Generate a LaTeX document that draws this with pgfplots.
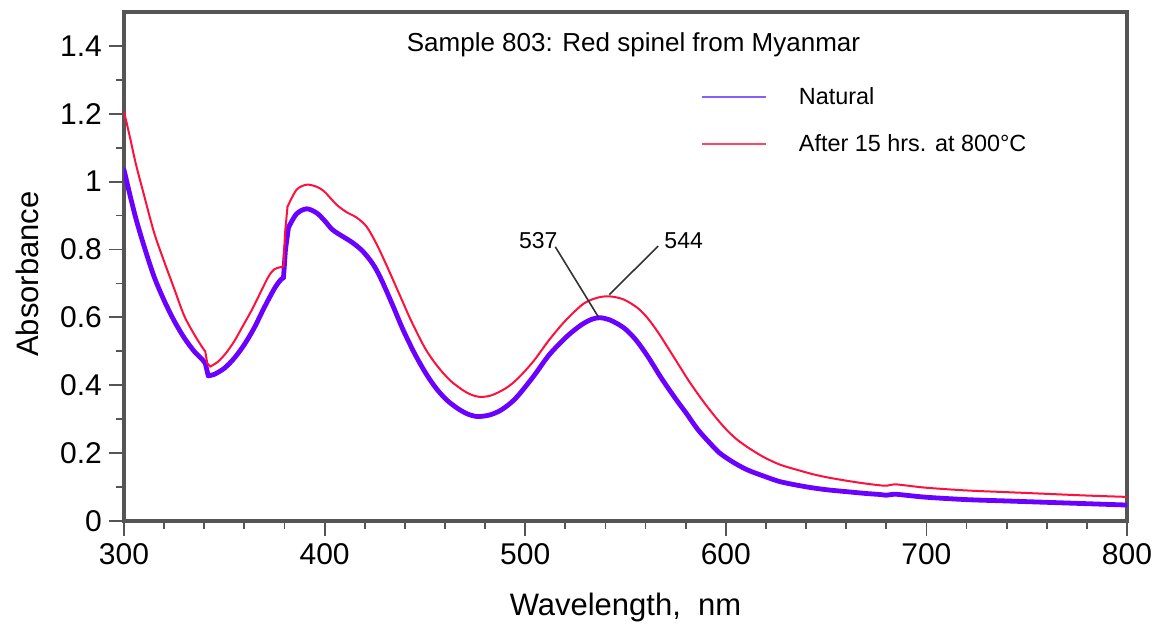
\documentclass[border=0pt]{standalone}
\usepackage{fontspec}
\setmainfont{Liberation Sans}
\usepackage{pgfplots}
\pgfplotsset{compat=1.18}
\definecolor{natcol}{RGB}{106,0,255}
\definecolor{natleg}{RGB}{140,90,255}
\definecolor{redcol}{RGB}{255,15,60}
\definecolor{redleg}{RGB}{255,70,105}
\definecolor{framecol}{RGB}{85,85,85}
\begin{document}
\begin{tikzpicture}
\begin{axis}[
  scale only axis,
  width=501.5pt, height=254.5pt,
  xmin=300, xmax=800, ymin=0, ymax=1.5,
  xtick={300,400,500,600,700,800},
  ytick={0,0.2,0.4,0.6,0.8,1,1.2,1.4},
  minor x tick num=4,
  minor y tick num=1,
  tick align=outside,
  tick pos=left,
  major tick length=7.5pt,
  minor tick length=4pt,
  every tick/.style={color=framecol, line width=0.9pt},
  axis line style={line width=1.6pt, color=framecol},
  /pgf/number format/assume math mode=true,
  ticklabel style={font=\fontsize{15}{18}\selectfont},
  every axis x label/.style={at={(axis description cs:0.5,-0.169)}, anchor=center},
  every axis y label/.style={at={(axis description cs:-0.0967,0.485)}, rotate=90, anchor=center},
  label style={font=\fontsize{15.5}{18}\selectfont},
  xlabel={Wavelength,\ \ nm},
  ylabel={Absorbance},
  legend style={draw=none, fill=none, at={(axis cs:587.3,1.18)}, anchor=west,
    inner sep=0pt, row sep=9.5pt, column sep=14pt,
    font=\fontsize{11.7}{14}\selectfont},
  legend cell align=left,
  legend image code/.code={\draw[#1] (0pt,0pt) -- (32pt,0pt);},
  nat/.style={forget plot, color=natcol, line width=2.4pt, line join=round, line cap=round},
  red/.style={forget plot, color=redcol, line width=1.0pt, line join=round, line cap=round},
]
\addlegendimage{color=natleg, line width=1.1pt}
\addlegendentry{Natural}
\addlegendimage{color=redleg, line width=1.1pt}
\addlegendentry{After 15 hrs. at 800\textdegree C}

% Natural
\addplot[nat, smooth] coordinates {
(300,1.035) (303,0.96) (306,0.89) (310,0.81) (315,0.72) (320,0.65) (325,0.59)
(330,0.54) (335,0.50) (339,0.476) (340.5,0.465)
};
\addplot[nat] coordinates {(340.5,0.465) (342,0.428)};
\addplot[nat, smooth] coordinates {
(342,0.428) (345,0.432) (350,0.45) (355,0.48) (360,0.52) (365,0.57) (370,0.63)
(375,0.685) (378,0.71) (379.5,0.717)
};
\addplot[nat] coordinates {(379.5,0.717) (380.5,0.80) (382,0.865)};
\addplot[nat, smooth] coordinates {
(382,0.865) (386,0.905) (391,0.92) (396,0.908)
(400,0.885) (404,0.858) (410,0.835) (414,0.82) (419,0.795) (424,0.758) (428,0.715)
(434,0.635) (439,0.565) (445,0.492) (451,0.43) (456,0.388) (461,0.356) (466,0.333)
(471,0.316) (476,0.308) (482,0.312) (488,0.327) (495,0.36) (504,0.425) (512,0.49)
(521,0.545) (528,0.578) (533,0.594) (537,0.599) (542,0.593) (549,0.570) (555,0.535)
(561,0.486) (568,0.42) (575,0.36) (580,0.32) (586,0.27) (592,0.23) (597,0.20)
(604,0.172) (611,0.15) (620,0.13) (627,0.116) (636,0.105) (644,0.097) (652,0.091)
(661,0.086) (670,0.081) (677,0.078) (680,0.076) (684,0.079) (688,0.077) (700,0.07)
(720,0.063) (740,0.059) (760,0.055) (780,0.051) (800,0.047)
};
% After heating
\addplot[red, smooth] coordinates {
(300,1.207) (303,1.13) (306,1.05) (310,0.96) (315,0.85) (320,0.765) (325,0.685)
(330,0.605) (335,0.55) (339,0.512) (340.5,0.50)
};
\addplot[red] coordinates {(340.5,0.50) (341.5,0.465) (343,0.455)};
\addplot[red, smooth] coordinates {
(343,0.455) (347,0.47) (351,0.496) (355,0.53) (359,0.572) (364,0.625) (368,0.673)
(372,0.72) (375,0.742) (379.5,0.75)
};
\addplot[red] coordinates {(379.5,0.75) (380.3,0.85) (381.5,0.926)};
\addplot[red, smooth] coordinates {
(381.5,0.926) (386,0.976) (391,0.991) (396,0.985)
(400,0.97) (406,0.932) (411,0.91) (416,0.894) (421,0.867) (426,0.815) (431,0.752)
(437,0.672) (443,0.592) (450,0.51) (456,0.458) (463,0.412) (471,0.378) (477,0.366)
(483,0.37) (490,0.39) (496,0.418) (504,0.47) (512,0.534) (520,0.59) (529,0.640)
(536,0.658) (542,0.662) (549,0.653) (556,0.628) (561,0.598) (566,0.558) (571,0.512)
(576,0.465) (581,0.418) (586,0.375) (591,0.335) (596,0.298) (601,0.265) (606,0.238)
(612,0.213) (619,0.188) (627,0.166) (636,0.150) (644,0.137) (652,0.127) (662,0.117)
(670,0.11) (677,0.105) (680,0.104) (684,0.108) (688,0.106) (700,0.098) (720,0.09)
(740,0.085) (760,0.08) (780,0.075) (800,0.071)
};
\draw[black!80, line width=0.8pt] (axis cs:515,0.808) -- (axis cs:536.4,0.602);
\draw[black!80, line width=0.8pt] (axis cs:566.3,0.81) -- (axis cs:541.9,0.667);
\node[font=\fontsize{11.5}{13}\selectfont] at (axis cs:506.5,0.826) {537};
\node[font=\fontsize{11.5}{13}\selectfont] at (axis cs:579,0.826) {544};
\node[font=\fontsize{13}{15}\selectfont] at (axis cs:554,1.404) {Sample 803: Red spinel from Myanmar};
\end{axis}
\pgfresetboundingbox
\path[use as bounding box] ([shift={(-62pt,-54.5pt)}]current axis.south west) rectangle ([shift={(17pt,6pt)}]current axis.north east);
\end{tikzpicture}
\end{document}
